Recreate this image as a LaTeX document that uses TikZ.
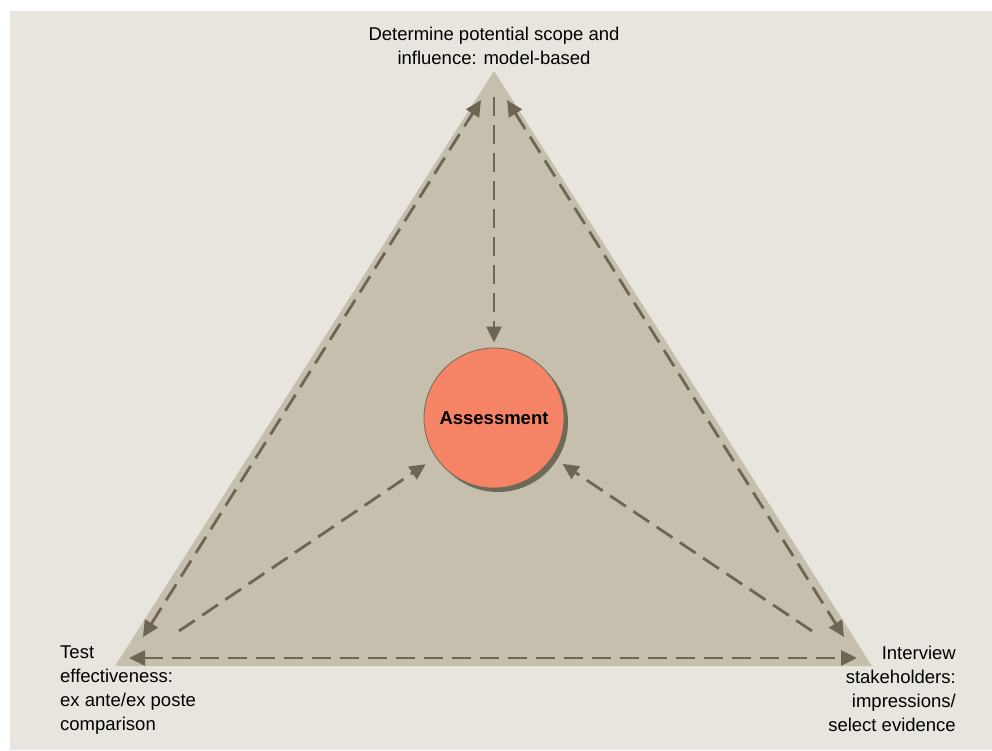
\documentclass[tikz,border=0pt]{standalone}
\usepackage{fontspec}
\setmainfont{Liberation Sans}
\usetikzlibrary{arrows.meta}
\definecolor{panel}{HTML}{E8E5DE}
\definecolor{tri}{HTML}{C6BFAD}
\definecolor{arr}{HTML}{6E6653}
\definecolor{shadowc}{HTML}{6E6A58}
\definecolor{circ}{HTML}{F58466}
\tikzset{
  dsh/.style={draw=arr, line width=2.8pt, dash pattern=on 19pt off 9pt},
  tip/.style={-{Triangle[length=16pt,width=15pt]}},
  dtip/.style={{Triangle[length=16pt,width=15pt]}-{Triangle[length=16pt,width=15pt]}},
  lbl/.style={font=\fontsize{18.5}{24}\selectfont, inner sep=0pt},
}
\begin{document}
\begin{tikzpicture}[x=1pt,y=-1pt]
\useasboundingbox (0,0) rectangle (992,750);
\fill[white] (0,0) rectangle (992,750);
\fill[panel] (10,11) rectangle (992,750);
% triangle
\coordinate (A) at (494,71);
\coordinate (B) at (115,666);
\coordinate (C) at (872,666);
\fill[tri] (A) -- (B) -- (C) -- cycle;
% circle
\fill[shadowc] (498,422) circle[radius=70];
\node[circle, minimum size=140pt, inner sep=0pt, fill=circ, draw=shadowc, line width=0.8pt,
      font=\fontsize{18.5}{24}\selectfont\bfseries] (c) at (494,418) {Assessment};
% arrow end points
\coordinate (vt) at (494,97);
\coordinate (l1) at (143,637);
\coordinate (l2) at (481,100);
\coordinate (r1) at (507,100);
\coordinate (r2) at (844,637);
\coordinate (b1) at (129,658);
\coordinate (b2) at (857,658);
\coordinate (dl) at (179,631);
\coordinate (dr) at (812,631);
% arrows
\draw[dsh, tip, shorten >=5pt] (vt) -- (c);
\draw[dsh, dtip] (l1) -- (l2);
\draw[dsh, dtip] (r1) -- (r2);
\draw[dsh, dtip] (b1) -- (b2);
\draw[dsh, tip, shorten >=12pt] (dl) -- (c);
\draw[dsh, tip, shorten >=12pt] (dr) -- (c);
% labels
\node[lbl, align=center, anchor=north] (top) at (494,27) {Determine potential scope and\\influence: model-based};
\node[lbl, align=left, anchor=north west] (lt) at (60,646) {Test\\effectiveness:\\ex ante/ex poste\\comparison};
\node[lbl, align=right, anchor=north east] (rt) at (956,646) {Interview\\stakeholders:\\impressions/\\select evidence};
\end{tikzpicture}
\end{document}
